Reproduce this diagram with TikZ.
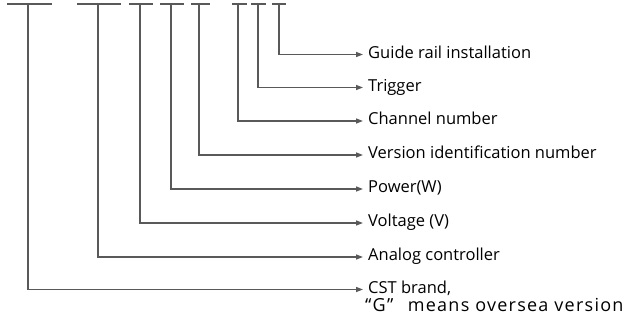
\documentclass[tikz,border=0pt]{standalone}
\usepackage{fontspec}
\setmainfont{Open Sans}
\usetikzlibrary{arrows.meta,positioning}

\begin{document}
\begin{tikzpicture}[
      x=1pt, y=-1pt,
      field/.style={anchor=west, inner sep=0pt, text height=0.714em, text depth=0pt, font=\fontsize{16.5}{16.5}\selectfont},
      bar/.style={draw=black!65, line width=1.3pt},
      lead/.style={draw=black!65, line width=1.3pt, -{Triangle[length=7pt,width=5pt]}, shorten >=5pt},
    ]
    \useasboundingbox (0,0) rectangle (627,320);
    % code positions (top row)
    \coordinate (c1) at (28,4);
    \coordinate (c2) at (98,4);
    \coordinate (c3) at (140,4);
    \coordinate (c4) at (171,4);
    \coordinate (c5) at (199,4);
    \coordinate (c6) at (238,4);
    \coordinate (c7) at (258,4);
    \coordinate (c8) at (279,4);
    \draw [bar] (7,4) -- (52,4);
    \draw [bar] (77,4) -- (121,4);
    \draw [bar] (129,4) -- (153,4);
    \draw [bar] (160,4) -- (184,4);
    \draw [bar] (191,4) -- (210,4);
    \draw [bar] (232,4) -- (247,4);
    \draw [bar] (251,4) -- (266,4);
    \draw [bar] (272,4) -- (286,4);
    % meanings (right column)
    \node [field] (guide) at (368,54.5) {Guide rail installation};
    \node [field] (trigger) at (368,87.5) {Trigger};
    \node [field] (channel) at (368,121) {Channel number};
    \node [field] (version) at (368,155) {Version identification number};
    \node [field] (power) at (368,189) {Power(W)};
    \node [field] (voltage) at (368,223) {Voltage (V)};
    \node [field] (analog) at (368,257) {Analog controller};
    \node [field] (brand) at (368,289.5) {CST brand,};
    \node [field, anchor=base west, font=\fontsize{18}{18}\selectfont\addfontfeature{LetterSpace=7}] (oversea) at (365,311.5) {“G”\hspace{0.8em}means oversea version};
    \draw [lead] (c8) |- (guide.west);
    \draw [lead] (c7) |- (trigger.west);
    \draw [lead] (c6) |- (channel.west);
    \draw [lead] (c5) |- (version.west);
    \draw [lead] (c4) |- (power.west);
    \draw [lead] (c3) |- (voltage.west);
    \draw [lead] (c2) |- (analog.west);
    \draw [lead] (c1) |- (brand.west);
  \end{tikzpicture}
\end{document}
